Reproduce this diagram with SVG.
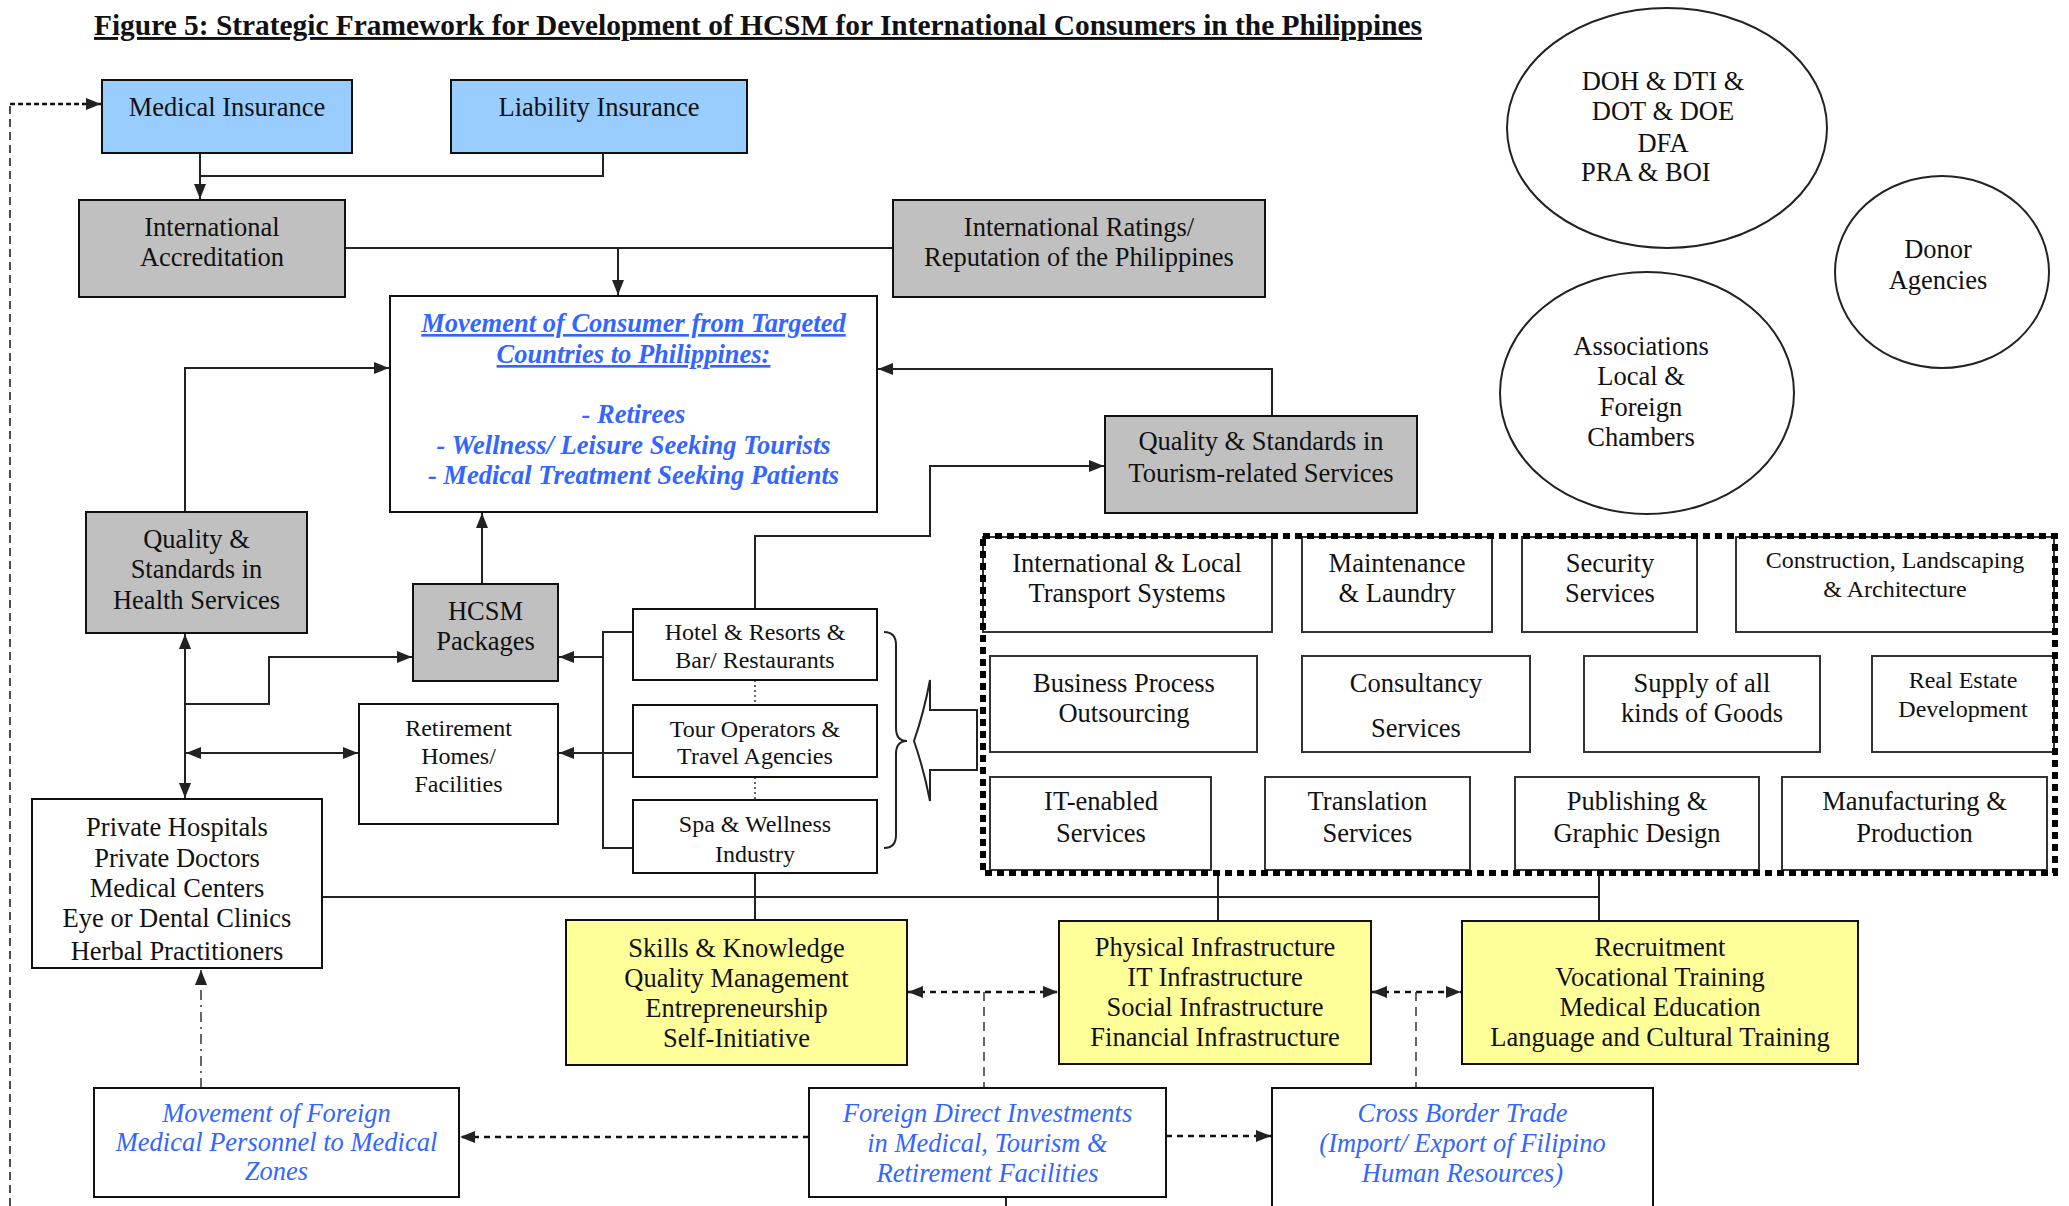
<svg xmlns="http://www.w3.org/2000/svg" width="2069" height="1206" viewBox="0 0 2069 1206">
<style>
.bx{stroke:#111;stroke-width:2}
.sb{stroke:#333;stroke-width:2;fill:#fff}
.blu{fill:#99CCFF}.gry{fill:#C0C0C0}.yel{fill:#FFFF99}.wht{fill:#fff}
text{font-family:"Liberation Serif","Times New Roman",serif;font-size:26.5px;text-anchor:middle;fill:#111}
.sm{font-size:24px}
.bl{fill:#3366FF;font-style:italic}
.bb{fill:#3366FF;font-style:italic;font-weight:bold}
.c{fill:none;stroke:#222;stroke-width:2}
.d{fill:none;stroke:#111;stroke-width:2.5;stroke-dasharray:6 5}
.dl{fill:none;stroke:#333;stroke-width:1.5;stroke-dasharray:9 6}
.el{fill:#fff;stroke:#222;stroke-width:2}
</style>
<defs>
<marker id="ah" markerUnits="userSpaceOnUse" markerWidth="16" markerHeight="12" refX="15" refY="6" orient="auto-start-reverse">
<path d="M0,0 L15,6 L0,12 z" fill="#222"/>
</marker>
</defs>
<rect width="2069" height="1206" fill="#fff"/>
<text x="94" y="35" textLength="1328" lengthAdjust="spacingAndGlyphs" style="text-anchor:start;font-weight:bold;font-size:29px;text-decoration:underline">Figure 5: Strategic Framework for Development of HCSM for International Consumers in the Philippines</text>

<g id="connectors">
<path class="c" d="M200,153 V199" marker-end="url(#ah)"/>
<path class="c" d="M603,153 V176 H200"/>
<path class="c" d="M345,248 H893"/>
<path class="c" d="M618,248 V295" marker-end="url(#ah)"/>
<path class="c" d="M185,512 V368 H389" marker-end="url(#ah)"/>
<path class="c" d="M1272,416 V369 H878" marker-end="url(#ah)"/>
<path class="c" d="M482,584 V513" marker-end="url(#ah)"/>
<path class="c" d="M755,609 V536 H930 V466 H1104" marker-end="url(#ah)"/>
<path class="c" d="M185,634 V798" marker-start="url(#ah)" marker-end="url(#ah)"/>
<path class="c" d="M185,704 H269 V657 H412" marker-end="url(#ah)"/>
<path class="c" d="M186,753 H358" marker-start="url(#ah)" marker-end="url(#ah)"/>
<path class="c" d="M633,632 H603 V848 H633 M633,753 H603"/>
<path class="c" d="M603,657 H559" marker-end="url(#ah)"/>
<path class="c" d="M603,753 H559" marker-end="url(#ah)"/>
<path d="M755,680 V705 M755,777 V800" fill="none" stroke="#333" stroke-width="1.5" stroke-dasharray="2 3"/>
<path class="c" d="M755,873 V920"/>
<path class="c" d="M322,897 H1599 M1218,873 V921 M1599,873 V921"/>
<path d="M884,632 Q896,632 896,645 L896,728 Q896,741 907,741 Q896,741 896,754 L896,835 Q896,848 884,848" fill="none" stroke="#222" stroke-width="2"/>
<path d="M914,741 Q924,712 930,680 L930,710 L977,710 L977,770 L930,770 L930,801 Q924,770 914,741 z" fill="#fff" stroke="#222" stroke-width="2"/>
<path d="M10,1206 V104" fill="none" stroke="#222" stroke-width="1.6" stroke-dasharray="8 5"/>
<path d="M10,104 H101" fill="none" stroke="#111" stroke-width="2.5" stroke-dasharray="5 3" marker-end="url(#ah)"/>
<path d="M201,1088 V970" fill="none" stroke="#333" stroke-width="1.5" stroke-dasharray="10 5 2 5" marker-end="url(#ah)"/>
<path class="d" d="M809,1137 H460" marker-end="url(#ah)"/>
<path class="d" d="M1166,1136 H1271" marker-end="url(#ah)"/>
<path class="d" d="M908,992 H1058" marker-start="url(#ah)" marker-end="url(#ah)"/>
<path class="d" d="M1372,992 H1461" marker-start="url(#ah)" marker-end="url(#ah)"/>
<path class="dl" d="M984,992 V1088 M1416,992 V1088"/>
<path class="c" d="M1006,1183 V1206"/>
</g>

<g id="n-medical-insurance"><rect class="bx blu" x="102" y="80" width="250" height="73"/><text x="227" y="116">Medical Insurance</text></g>
<g id="n-liability-insurance"><rect class="bx blu" x="451" y="80" width="296" height="73"/><text x="599" y="116">Liability Insurance</text></g>
<g id="n-intl-accreditation"><rect class="bx gry" x="79" y="200" width="266" height="97"/><text x="212" y="236">International</text><text x="212" y="266">Accreditation</text></g>
<g id="n-intl-ratings"><rect class="bx gry" x="893" y="200" width="372" height="97"/><text x="1079" y="236">International Ratings/</text><text x="1079" y="266">Reputation of the Philippines</text></g>
<g id="n-movement-consumer"><rect class="bx wht" x="390" y="296" width="487" height="216"/>
<text class="bb" x="633.5" y="332" style="text-decoration:underline">Movement of Consumer from Targeted</text>
<text class="bb" x="633.5" y="363" style="text-decoration:underline">Countries to Philippines:</text>
<text class="bb" x="633.5" y="423">- Retirees</text>
<text class="bb" x="633.5" y="454">- Wellness/ Leisure Seeking Tourists</text>
<text class="bb" x="633.5" y="484">- Medical Treatment Seeking Patients</text></g>
<g id="n-quality-health"><rect class="bx gry" x="86" y="512" width="221" height="121"/><text x="196.5" y="548">Quality &amp;</text><text x="196.5" y="578">Standards in</text><text x="196.5" y="609">Health Services</text></g>
<g id="n-quality-tourism"><rect class="bx gry" x="1105" y="416" width="312" height="97"/><text x="1261" y="450">Quality &amp; Standards in</text><text x="1261" y="482">Tourism-related Services</text></g>
<g id="n-hcsm"><rect class="bx gry" x="413" y="584" width="145" height="97"/><text x="485.5" y="620">HCSM</text><text x="485.5" y="650">Packages</text></g>
<g id="n-retirement"><rect class="bx wht" x="359" y="704" width="199" height="120"/><text class="sm" x="458.5" y="736">Retirement</text><text class="sm" x="458.5" y="764">Homes/</text><text class="sm" x="458.5" y="792">Facilities</text></g>
<g id="n-hotel"><rect class="bx wht" x="633" y="609" width="244" height="71"/><text class="sm" x="755" y="640">Hotel &amp; Resorts &amp;</text><text class="sm" x="755" y="668">Bar/ Restaurants</text></g>
<g id="n-tour"><rect class="bx wht" x="633" y="705" width="244" height="72"/><text class="sm" x="755" y="737">Tour Operators &amp;</text><text class="sm" x="755" y="764">Travel Agencies</text></g>
<g id="n-spa"><text class="sm" x="755" y="832">Spa &amp; Wellness</text><text class="sm" x="755" y="862">Industry</text><rect class="bx" fill="none" x="633" y="800" width="244" height="73"/></g>
<g id="n-private-hospitals"><text x="177" y="836">Private Hospitals</text><text x="177" y="867">Private Doctors</text><text x="177" y="897">Medical Centers</text><text x="177" y="927">Eye or Dental Clinics</text><text x="177" y="960">Herbal Practitioners</text><rect class="bx" fill="none" x="32" y="799" width="290" height="169"/></g>
<g id="n-skills"><rect class="bx yel" x="566" y="920" width="341" height="145"/><text x="736.5" y="957">Skills &amp; Knowledge</text><text x="736.5" y="987">Quality Management</text><text x="736.5" y="1017">Entrepreneurship</text><text x="736.5" y="1047">Self-Initiative</text></g>
<g id="n-infrastructure"><rect class="bx yel" x="1059" y="921" width="312" height="143"/><text x="1215" y="956">Physical Infrastructure</text><text x="1215" y="986">IT Infrastructure</text><text x="1215" y="1016">Social Infrastructure</text><text x="1215" y="1046">Financial Infrastructure</text></g>
<g id="n-recruitment"><rect class="bx yel" x="1462" y="921" width="396" height="143"/><text x="1660" y="956">Recruitment</text><text x="1660" y="986">Vocational Training</text><text x="1660" y="1016">Medical Education</text><text x="1660" y="1046">Language and Cultural Training</text></g>
<g id="n-movement-personnel"><rect class="bx wht" x="94" y="1088" width="365" height="109"/><text class="bl" x="276.5" y="1122">Movement of Foreign</text><text class="bl" x="276.5" y="1151">Medical Personnel to Medical</text><text class="bl" x="276.5" y="1180">Zones</text></g>
<g id="n-fdi"><rect class="bx wht" x="809" y="1088" width="357" height="109"/><text class="bl" x="987.5" y="1122">Foreign Direct Investments</text><text class="bl" x="987.5" y="1152">in Medical, Tourism &amp;</text><text class="bl" x="987.5" y="1182">Retirement Facilities</text></g>
<g id="n-cross-border"><rect class="bx wht" x="1272" y="1088" width="381" height="140"/><text class="bl" x="1462.5" y="1122">Cross Border Trade</text><text class="bl" x="1462.5" y="1152">(Import/ Export of Filipino</text><text class="bl" x="1462.5" y="1182">Human Resources)</text></g>

<g id="n-government"><ellipse class="el" cx="1667" cy="128" rx="160" ry="120"/><text x="1663" y="90">DOH &amp; DTI &amp;</text><text x="1663" y="120">DOT &amp; DOE</text><text x="1663" y="152">DFA</text><text x="1581" y="181" style="text-anchor:start">PRA &amp; BOI</text></g>
<g id="n-donor"><ellipse class="el" cx="1942" cy="272" rx="107" ry="96"/><text x="1938" y="258">Donor</text><text x="1938" y="289">Agencies</text></g>
<g id="n-associations"><ellipse class="el" cx="1647" cy="393" rx="147" ry="121"/><text x="1641" y="355">Associations</text><text x="1641" y="385">Local &amp;</text><text x="1641" y="416">Foreign</text><text x="1641" y="446">Chambers</text></g>

<g id="n-services-group">
<g id="n-transport"><rect class="sb" x="983" y="537" width="289" height="95"/><text x="1127" y="572">International &amp; Local</text><text x="1127" y="602">Transport Systems</text></g>
<g id="n-maintenance"><rect class="sb" x="1302" y="537" width="190" height="95"/><text x="1397" y="572">Maintenance</text><text x="1397" y="602">&amp; Laundry</text></g>
<g id="n-security"><rect class="sb" x="1522" y="537" width="175" height="95"/><text x="1610" y="572">Security</text><text x="1610" y="602">Services</text></g>
<g id="n-construction"><rect class="sb" x="1736" y="537" width="318" height="95"/><text class="sm" x="1895" y="568">Construction, Landscaping</text><text class="sm" x="1895" y="597">&amp; Architecture</text></g>
<g id="n-bpo"><rect class="sb" x="990" y="656" width="267" height="96"/><text x="1124" y="692">Business Process</text><text x="1124" y="722">Outsourcing</text></g>
<g id="n-consultancy"><rect class="sb" x="1302" y="656" width="228" height="96"/><text x="1416" y="692">Consultancy</text><text x="1416" y="737">Services</text></g>
<g id="n-supply"><rect class="sb" x="1584" y="656" width="236" height="96"/><text x="1702" y="692">Supply of all</text><text x="1702" y="722">kinds of Goods</text></g>
<g id="n-real-estate"><rect class="sb" x="1872" y="656" width="182" height="96"/><text class="sm" x="1963" y="688">Real Estate</text><text class="sm" x="1963" y="717">Development</text></g>
<g id="n-it-enabled"><rect class="sb" x="990" y="777" width="221" height="93"/><text x="1101" y="810">IT-enabled</text><text x="1101" y="842">Services</text></g>
<g id="n-translation"><rect class="sb" x="1265" y="777" width="205" height="93"/><text x="1367.5" y="810">Translation</text><text x="1367.5" y="842">Services</text></g>
<g id="n-publishing"><rect class="sb" x="1515" y="777" width="244" height="93"/><text x="1637" y="810">Publishing &amp;</text><text x="1637" y="842">Graphic Design</text></g>
<g id="n-manufacturing"><rect class="sb" x="1782" y="777" width="265" height="93"/><text x="1914.5" y="810">Manufacturing &amp;</text><text x="1914.5" y="842">Production</text></g>
<rect x="983" y="536" width="1072" height="337" fill="none" stroke="#000" stroke-width="6" stroke-dasharray="7 5"/>
</g>
</svg>
